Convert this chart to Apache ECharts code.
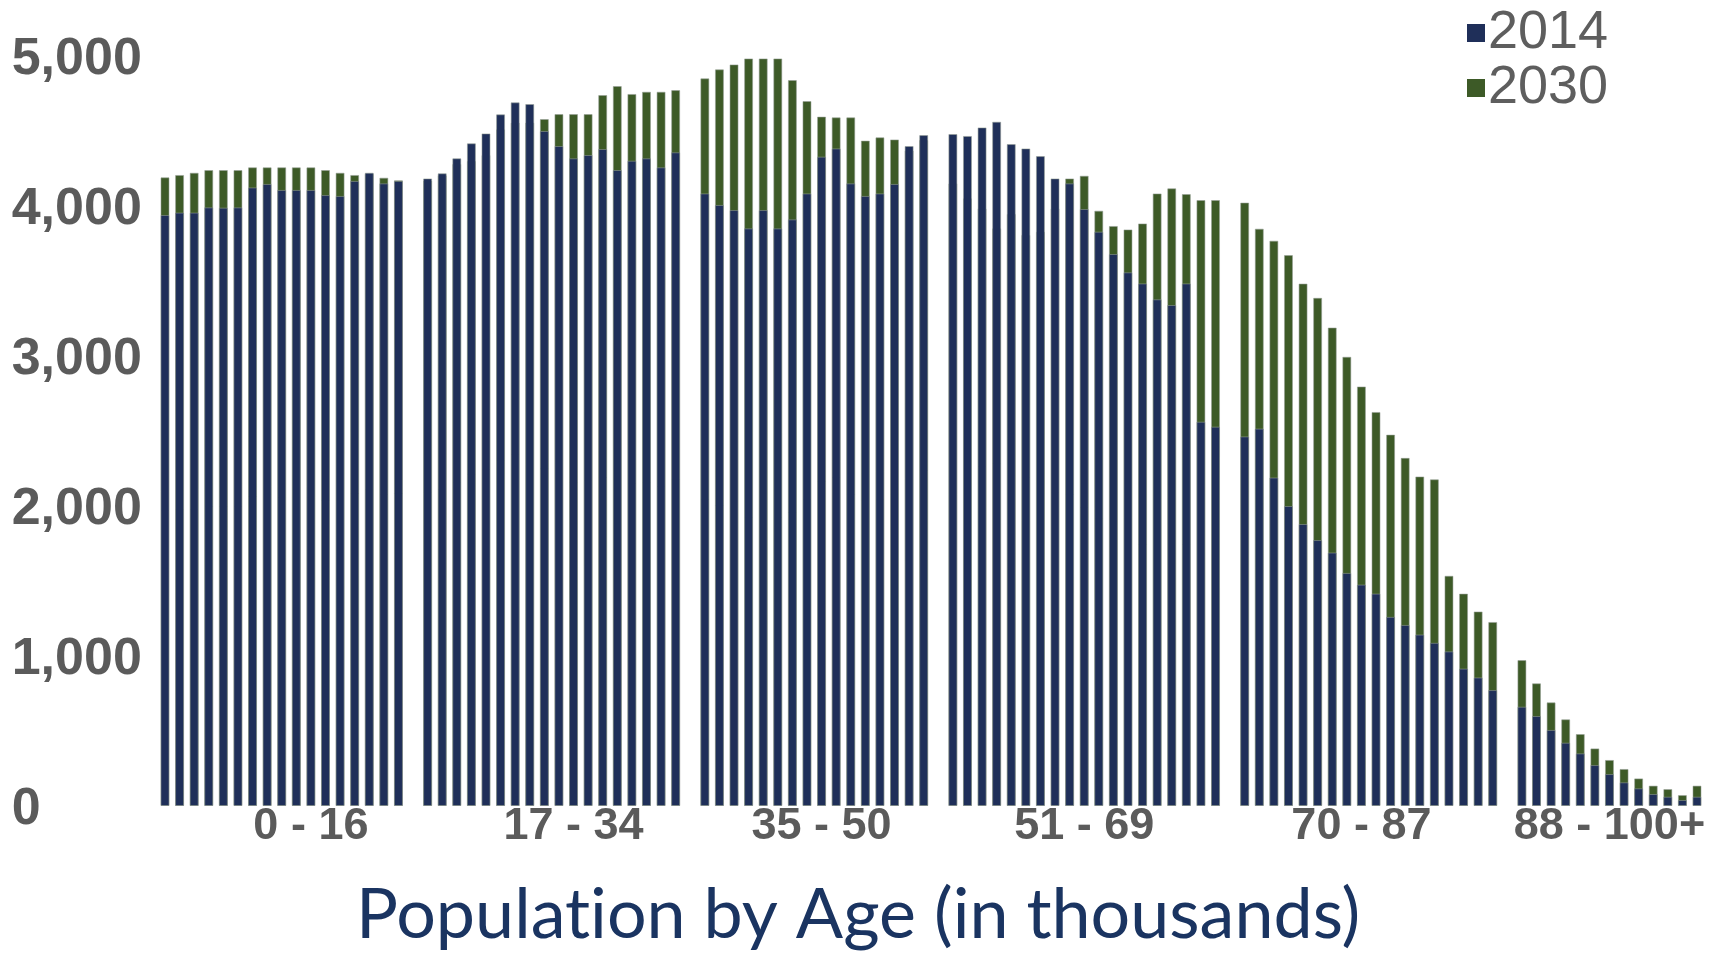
<!DOCTYPE html>
<html>
<head>
<meta charset="utf-8">
<title>Population by Age</title>
<script src="https://cdn.jsdelivr.net/npm/echarts@6/dist/echarts.min.js"></script>
<style>
  html, body { margin: 0; padding: 0; background: #ffffff; }
  #chart { width: 1727px; height: 953px; }
</style>
</head>
<body>
<div id="chart"></div>
<script>
// Age groups shown along the horizontal axis, and how many single-year ages each holds
const groupLabels = ['0 - 16', '17 - 34', '35 - 50', '51 - 69', '70 - 87', '88 - 100+'];
const groupSizes = [17, 18, 16, 19, 18, 13];

// Population per single year of age (thousands), ages 0 .. 100+
const pop2014 = [
  3940, 3956, 3956, 3991, 3989, 3991, 4124, 4147, 4107, 4107, 4107, 4073, 4067, 4167, 4222, 4151, 4167,
  4184, 4218, 4318, 4418, 4484, 4611, 4691, 4680, 4500, 4400, 4318, 4340, 4380, 4240, 4302, 4318, 4258, 4358,
  4084, 4007, 3973, 3851, 3973, 3851, 3911, 4084, 4329, 4384, 4151, 4067, 4084, 4147, 4400, 4473,
  4480, 4467, 4524, 4562, 4413, 4384, 4333, 4184, 4151, 3980, 3829, 3680, 3558, 3484, 3378, 3340, 3484, 2562, 2529,
  2464, 2516, 2190, 2000, 1880, 1773, 1690, 1554, 1476, 1416, 1261, 1207, 1143, 1088, 1031, 916, 857, 773,
  662, 600, 507, 422, 351, 273, 213, 158, 118, 80, 62, 40, 62
];
const pop2030 = [
  4191, 4207, 4222, 4240, 4240, 4240, 4258, 4258, 4258, 4258, 4258, 4240, 4222, 4207, 4215, 4189, 4172,
  4170, 4205, 4280, 4300, 4340, 4511, 4556, 4556, 4580, 4613, 4613, 4613, 4740, 4800, 4747, 4762, 4762, 4773,
  4851, 4911, 4944, 4984, 4984, 4984, 4840, 4700, 4596, 4591, 4591, 4436, 4458, 4444, 4370, 4440,
  4151, 4051, 3984, 3851, 3947, 3807, 3829, 3984, 4184, 4202, 3969, 3867, 3844, 3884, 4084, 4118, 4080, 4040, 4040,
  4023, 3849, 3769, 3673, 3483, 3388, 3190, 2995, 2797, 2627, 2476, 2321, 2197, 2178, 1535, 1416, 1297, 1227,
  973, 818, 691, 578, 480, 384, 307, 247, 184, 136, 113, 73, 136
];

// Value axis ticks
const yMin = 0, yMax = 5000, yStep = 1000;

// Where each group's caption sits, counted in bars from the group's first age
const labelSlot = [10, 10, 8, 9, 8, 6];

// Build the category list: one blank slot separates neighbouring age groups
const categories = [];
const data2014 = [];
const data2030 = [];
const captionAt = {};
let age = 0;
groupSizes.forEach(function (n, g) {
  if (g > 0) {
    categories.push('');
    data2014.push(null);
    data2030.push(null);
  }
  const start = categories.length;
  for (let i = 0; i < n; i++) {
    categories.push(age === 100 ? '100+' : String(age));
    data2014.push(pop2014[age]);
    data2030.push(pop2030[age]);
    age++;
  }
  captionAt[start + labelSlot[g]] = groupLabels[g];
});

const NAVY = '#1f2f59';
const GREEN = '#3d5a27';
const EDGE = 'rgba(150,158,150,0.55)';
const AXIS_GREY = '#5b5b5b';

const chart = echarts.init(document.getElementById('chart'), null, { renderer: 'canvas' });
chart.setOption({
  animation: false,
  backgroundColor: '#ffffff',
  title: {
    // drawn as two runs so the font's "ti" ligature is not applied
    text: '{t|Populat}{t|ion by Age (in thousands)}',
    left: 356,
    top: 880,
    padding: 0,
    textStyle: {
      fontFamily: 'Lato',
      fontSize: 70,
      fontWeight: 'normal',
      color: '#1a3461',
      rich: {
        t: {
          fontFamily: 'Lato',
          fontSize: 70,
          fontWeight: 'normal',
          color: '#1a3461'
        }
      }
    }
  },
  legend: {
    data: ['2014', '2030'],
    orient: 'vertical',
    left: 1467,
    top: 6,
    padding: 0,
    itemGap: 1,
    itemWidth: 18,
    itemHeight: 18,
    icon: 'rect',
    itemStyle: { borderWidth: 0 },
    textStyle: {
      fontFamily: 'Liberation Sans',
      fontSize: 54,
      lineHeight: 50,
      color: '#5e5e5e',
      padding: [0, 0, 0, -2]
    }
  },
  grid: {
    left: 157.7,
    right: 22.7,
    top: 56,
    bottom: 147,
    outerBoundsMode: 'none'
  },
  xAxis: {
    type: 'category',
    data: categories,
    axisLine: { show: false },
    axisTick: { show: false },
    splitLine: { show: false },
    axisLabel: {
      interval: 0,
      margin: 11,
      lineHeight: 20,
      fontFamily: 'Liberation Sans',
      fontSize: 45,
      fontWeight: 'bold',
      color: AXIS_GREY,
      formatter: function (value, index) {
        return captionAt[index] || '';
      }
    }
  },
  yAxis: {
    type: 'value',
    min: yMin,
    max: yMax,
    interval: yStep,
    axisLine: { show: false },
    axisTick: { show: false },
    splitLine: { show: false },
    axisLabel: {
      align: 'left',
      verticalAlign: 'top',
      lineHeight: 8,
      margin: 146,
      fontFamily: 'Liberation Sans',
      fontSize: 52,
      fontWeight: 'bold',
      color: AXIS_GREY,
      formatter: function (v) { return v.toLocaleString('en-US'); }
    }
  },
  series: [
    {
      name: '2014',
      type: 'bar',
      data: data2014,
      barWidth: 9,
      barGap: '-100%',
      z: 3,
      itemStyle: { color: NAVY, borderColor: EDGE, borderWidth: 1 }
    },
    {
      name: '2030',
      type: 'bar',
      data: data2030,
      barWidth: 9,
      barGap: '-100%',
      z: 2,
      itemStyle: { color: GREEN, borderColor: EDGE, borderWidth: 1 }
    }
  ]
});
</script>
</body>
</html>
